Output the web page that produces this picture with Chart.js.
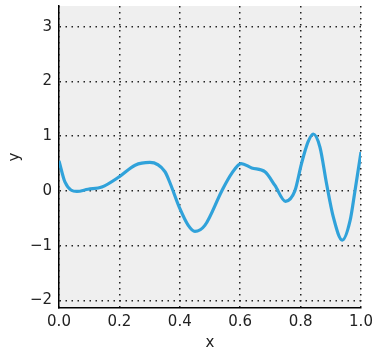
<!DOCTYPE html>
<html>
<head>
<meta charset="utf-8">
<script src="https://cdn.jsdelivr.net/npm/chart.js@4"></script>
<style>
  html,body{margin:0;padding:0;background:#fff}
  #wrap{width:374px;height:352px}
</style>
</head>
<body>
<div id="wrap"><canvas id="c" width="374" height="352"></canvas></div>
<script>
// data
var xs = [0.000, 0.020, 0.059, 0.096, 0.142, 0.200, 0.252, 0.301, 0.351, 0.368,
          0.400, 0.428, 0.450, 0.483, 0.539, 0.572, 0.603, 0.638, 0.682, 0.715,
          0.750, 0.781, 0.803, 0.825, 0.842, 0.864, 0.886, 0.908, 0.938, 0.964,
          0.980, 1.000];
var ys = [0.55, 0.16, -0.01, 0.03, 0.07, 0.26, 0.47, 0.52, 0.35, 0.14,
          -0.32, -0.63, -0.74, -0.63, 0.00, 0.32, 0.50, 0.42, 0.35, 0.10,
          -0.19, 0.00, 0.50, 0.90, 1.04, 0.80, 0.13, -0.47, -0.90, -0.54,
          0.00, 0.71];
var xTicks = [0, 0.2, 0.4, 0.6, 0.8, 1.0];
var yTicks = [-2, -1, 0, 1, 2, 3];

var pts = xs.map(function(x, i){ return {x: x, y: ys[i]}; });

// gray plot background
var plotBg = {
  id: 'plotBg',
  beforeDraw: function(chart){
    var a = chart.chartArea, ctx = chart.ctx;
    ctx.save();
    ctx.fillStyle = '#efefef';
    ctx.fillRect(a.left, a.top, a.right - a.left, a.bottom - a.top);
    ctx.restore();
  }
};

function minusFmt(v){
  return v < 0 ? '\u2212' + Math.abs(v) : String(v);
}

Chart.defaults.font.family = 'DejaVu Sans';
Chart.defaults.font.size = 15;
Chart.defaults.color = '#222';

new Chart(document.getElementById('c').getContext('2d'), {
  type: 'scatter',
  data: {
    datasets: [{
      data: pts,
      showLine: true,
      borderColor: '#30a2da',
      borderWidth: 3.2,
      pointRadius: 0,
      cubicInterpolationMode: 'monotone'
    }]
  },
  options: {
    responsive: false,
    animation: false,
    layout: { padding: { left: 0, right: 13, top: 6, bottom: 0 } },
    plugins: { legend: { display: false }, tooltip: { enabled: false } },
    scales: {
      x: {
        type: 'linear',
        min: 0, max: 1,
        afterBuildTicks: function(s){ s.ticks = xTicks.map(function(v){ return {value: v}; }); },
        afterFit: function(s){ s.height = 44; s.paddingLeft = 0; s.paddingRight = 0; },
        ticks: { padding: 5, maxRotation: 0, callback: function(v){ return v.toFixed(1); } },
        grid: { color: '#222', lineWidth: 1.5, drawTicks: false },
        border: { display: true, color: '#000', width: 1.5, dash: [1.5, 4.5] },
        title: { display: true, text: 'x', padding: { top: 0, bottom: 0 } }
      },
      y: {
        min: -2.14, max: 3.38,
        afterBuildTicks: function(s){ s.ticks = yTicks.map(function(v){ return {value: v}; }); },
        afterFit: function(s){ s.width = 59; s.paddingTop = 0; s.paddingBottom = 0; },
        ticks: { padding: 7, callback: minusFmt },
        grid: { color: '#222', lineWidth: 1.5, drawTicks: false },
        border: { display: true, color: '#000', width: 1.5, dash: [1.5, 4.5] },
        title: { display: true, text: 'y', padding: { top: 6, bottom: 0 } }
      }
    }
  },
  plugins: [plotBg]
});
</script>
</body>
</html>
